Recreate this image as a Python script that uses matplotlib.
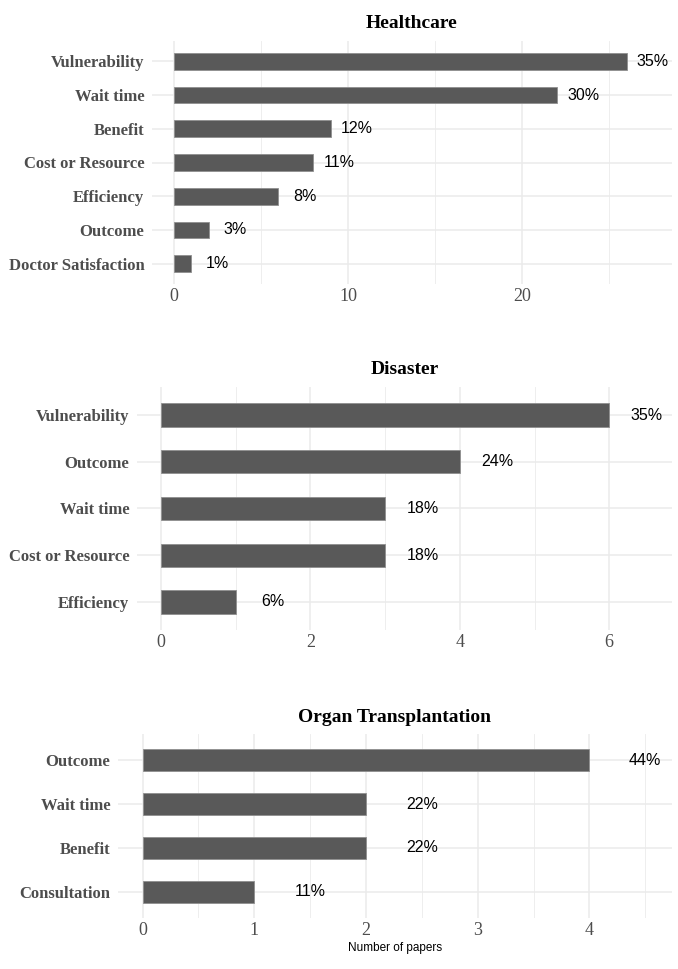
import matplotlib
matplotlib.use("Agg")
import matplotlib.pyplot as plt

# data
hc_cats = ["Vulnerability", "Wait time", "Benefit", "Cost or Resource",
           "Efficiency", "Outcome", "Doctor Satisfaction"]
hc_vals = [26, 22, 9, 8, 6, 2, 1]

dis_cats = ["Vulnerability", "Outcome", "Wait time", "Cost or Resource", "Efficiency"]
dis_vals = [6, 4, 3, 3, 1]

org_cats = ["Outcome", "Wait time", "Benefit", "Consultation"]
org_vals = [4, 2, 2, 1]

W, H = 678, 969
SERIF = ["Liberation Serif", "DejaVu Serif"]
SANS = ["Liberation Sans", "DejaVu Sans"]

fig = plt.figure(figsize=(W / 100, H / 100), dpi=100)


def panel(box, title, cats, vals, xlim, major, minor, off, xlabel=None):
    l, t, r, b = box
    ax = fig.add_axes([l / W, 1 - b / H, (r - l) / W, (b - t) / H])
    n = len(cats)
    y = [n - 1 - i for i in range(n)]
    ax.barh(y, vals, height=0.5, color="#595959", edgecolor="#8f8f8f",
            linewidth=0.6, zorder=3)
    total = sum(vals)
    for yy, v in zip(y, vals):
        ax.text(v + off, yy, f"{round(100 * v / total)}%", ha="center",
                va="center", fontsize=11.5, family=SANS, color="black", zorder=4)
    ax.set_xlim(*xlim)
    ax.set_ylim(-0.6, n - 1 + 0.6)
    ax.set_yticks(y)
    ax.set_yticklabels(cats, family=SERIF, fontweight="bold", fontsize=12,
                       color="#4D4D4D")
    ax.set_xticks(major)
    ax.set_xticklabels([str(m) for m in major], family=SERIF, fontsize=13,
                       color="#4D4D4D")
    ax.set_xticks(minor, minor=True)
    ax.tick_params(which="both", length=0)
    ax.tick_params(axis="y", pad=5.5)
    ax.tick_params(axis="x", pad=3)
    ax.grid(which="major", color="#EBEBEB", lw=1.1, zorder=0)
    ax.grid(which="minor", axis="x", color="#EBEBEB", lw=0.6, zorder=0)
    for s in ax.spines.values():
        s.set_visible(False)
    ax.set_title(title, family=SERIF, fontweight="bold", fontsize=14, pad=9)
    if xlabel:
        ax.set_xlabel(xlabel, family=SANS, fontsize=8.5, labelpad=2)
    return ax


panel((152, 41, 672, 284), "Healthcare", hc_cats, hc_vals, (-1.26, 28.6),
      [0, 10, 20], [5, 15, 25], 1.5)
panel((137, 387, 672, 630), "Disaster", dis_cats, dis_vals, (-0.32, 6.84),
      [0, 2, 4, 6], [1, 3, 5], 0.5)
panel((118, 734, 672, 918), "Organ Transplantation", org_cats, org_vals,
      (-0.22, 4.74), [0, 1, 2, 3, 4], [0.5, 1.5, 2.5, 3.5, 4.5], 0.5,
      xlabel="Number of papers")

fig.savefig("out.png", dpi=100)
